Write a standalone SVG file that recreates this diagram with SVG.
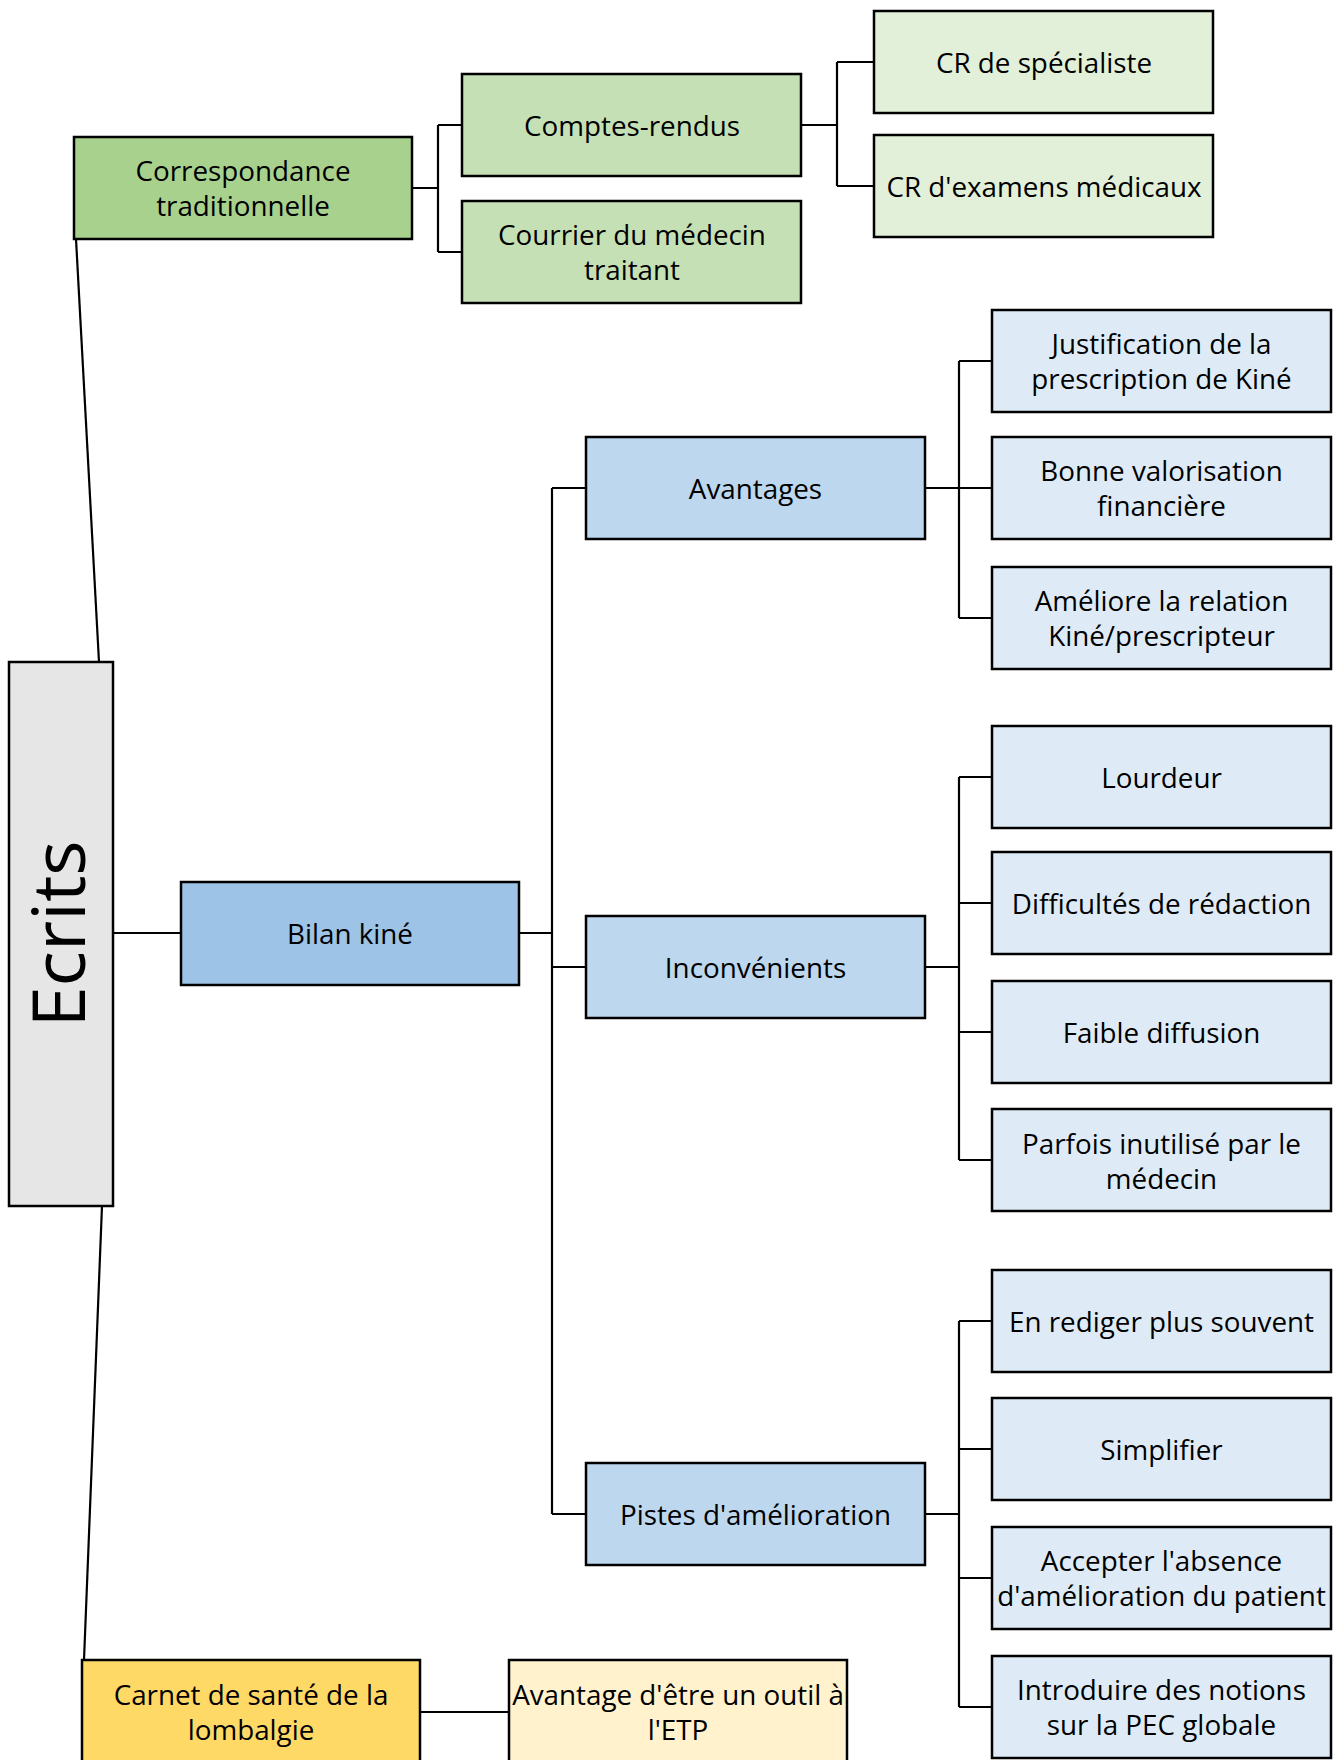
<svg xmlns="http://www.w3.org/2000/svg" width="1337" height="1760" viewBox="0 0 1337 1760">
<style>
.b{stroke:#000;stroke-width:2.5}
.t{font-family:"Open Sans","Noto Sans","DejaVu Sans",sans-serif;font-size:27.8px;fill:#000;text-anchor:middle;dominant-baseline:central}
.c{fill:none;stroke:#000;stroke-width:2.2}
.g1{fill:#A9D18E}.g2{fill:#C5E0B4}.g3{fill:#E2F0D9}
.b1{fill:#9DC3E6}.b2{fill:#BDD7EE}.b3{fill:#DEEBF7}
.y1{fill:#FFD966}.y2{fill:#FFF2CC}.gr{fill:#E7E6E6}
</style>
<rect width="1337" height="1760" fill="#fff"/>
<g id="connectors">
<path class="c" d="M99,662 L76,239"/>
<path class="c" d="M102,1206 L84,1660"/>
<path class="c" d="M114,933 H181"/>
<path class="c" d="M412,188 H438 M438,125 V252 M438,125 H462 M438,252 H462"/>
<path class="c" d="M801,125 H837 M837,62 V186 M837,62 H874 M837,186 H874"/>
<path class="c" d="M519,933 H552 M552,488 V1514 M552,488 H586 M552,967 H586 M552,1514 H586"/>
<path class="c" d="M925,488 H992 M959,361 V618 M959,361 H992 M959,618 H992"/>
<path class="c" d="M925,967 H959 M959,777 V1160 M959,777 H992 M959,903 H992 M959,1032 H992 M959,1160 H992"/>
<path class="c" d="M925,1514 H959 M959,1321 V1707 M959,1321 H992 M959,1449 H992 M959,1578 H992 M959,1707 H992"/>
<path class="c" d="M420,1712 H509"/>
</g>
<g id="n-ecrits"><rect class="b gr" x="9" y="662" width="104" height="544"/><text class="t" transform="translate(56,934) rotate(-90)" style="font-size:74px">Ecrits</text></g>
<g id="n-corr"><rect class="b g1" x="74" y="137" width="338" height="102"/><text class="t" x="243" y="170">Correspondance</text><text class="t" x="243" y="205">traditionnelle</text></g>
<g id="n-comptes"><rect class="b g2" x="462" y="74" width="339" height="102"/><text class="t" x="632" y="125">Comptes-rendus</text></g>
<g id="n-courrier"><rect class="b g2" x="462" y="201" width="339" height="102"/><text class="t" x="632" y="234">Courrier du médecin</text><text class="t" x="632" y="269">traitant</text></g>
<g id="n-crspec"><rect class="b g3" x="874" y="11" width="339" height="102"/><text class="t" x="1044" y="62">CR de spécialiste</text></g>
<g id="n-crexam"><rect class="b g3" x="874" y="135" width="339" height="102"/><text class="t" x="1044" y="186">CR d'examens médicaux</text></g>
<g id="n-bilan"><rect class="b b1" x="181" y="882" width="338" height="103"/><text class="t" x="350" y="933">Bilan kiné</text></g>
<g id="n-avantages"><rect class="b b2" x="586" y="437" width="339" height="102"/><text class="t" x="755.5" y="488">Avantages</text></g>
<g id="n-inconv"><rect class="b b2" x="586" y="916" width="339" height="102"/><text class="t" x="755.5" y="967">Inconvénients</text></g>
<g id="n-pistes"><rect class="b b2" x="586" y="1463" width="339" height="102"/><text class="t" x="755.5" y="1514">Pistes d'amélioration</text></g>
<g id="n-justif"><rect class="b b3" x="992" y="310" width="339" height="102"/><text class="t" x="1161.5" y="343">Justification de la</text><text class="t" x="1161.5" y="378">prescription de Kiné</text></g>
<g id="n-bonne"><rect class="b b3" x="992" y="437" width="339" height="102"/><text class="t" x="1161.5" y="470">Bonne valorisation</text><text class="t" x="1161.5" y="505">financière</text></g>
<g id="n-ameliore"><rect class="b b3" x="992" y="567" width="339" height="102"/><text class="t" x="1161.5" y="600">Améliore la relation</text><text class="t" x="1161.5" y="635">Kiné/prescripteur</text></g>
<g id="n-lourdeur"><rect class="b b3" x="992" y="726" width="339" height="102"/><text class="t" x="1161.5" y="777">Lourdeur</text></g>
<g id="n-diff"><rect class="b b3" x="992" y="852" width="339" height="102"/><text class="t" x="1161.5" y="903">Difficultés de rédaction</text></g>
<g id="n-faible"><rect class="b b3" x="992" y="981" width="339" height="102"/><text class="t" x="1161.5" y="1032">Faible diffusion</text></g>
<g id="n-parfois"><rect class="b b3" x="992" y="1109" width="339" height="102"/><text class="t" x="1161.5" y="1143">Parfois inutilisé par le</text><text class="t" x="1161.5" y="1178">médecin</text></g>
<g id="n-rediger"><rect class="b b3" x="992" y="1270" width="339" height="102"/><text class="t" x="1161.5" y="1321">En rediger plus souvent</text></g>
<g id="n-simpl"><rect class="b b3" x="992" y="1398" width="339" height="102"/><text class="t" x="1161.5" y="1449">Simplifier</text></g>
<g id="n-accepter"><rect class="b b3" x="992" y="1527" width="339" height="102"/><text class="t" x="1161.5" y="1560">Accepter l'absence</text><text class="t" x="1161.5" y="1595">d'amélioration du patient</text></g>
<g id="n-introduire"><rect class="b b3" x="992" y="1656" width="339" height="102"/><text class="t" x="1161.5" y="1689">Introduire des notions</text><text class="t" x="1161.5" y="1724">sur la PEC globale</text></g>
<g id="n-carnet"><rect class="b y1" x="82" y="1660" width="338" height="104"/><text class="t" x="251" y="1694">Carnet de santé de la</text><text class="t" x="251" y="1729">lombalgie</text></g>
<g id="n-etp"><rect class="b y2" x="509" y="1660" width="338" height="104"/><text class="t" x="678" y="1694">Avantage d'être un outil à</text><text class="t" x="678" y="1729">l'ETP</text></g>
</svg>
